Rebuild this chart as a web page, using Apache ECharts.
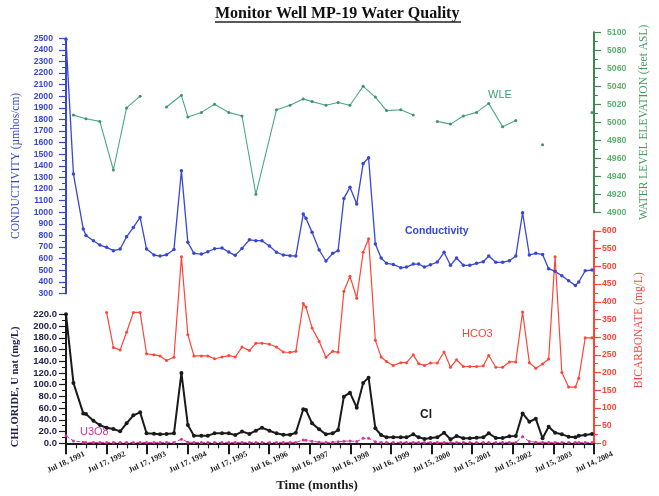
<!DOCTYPE html>
<html>
<head>
<meta charset="utf-8">
<script src="https://cdn.jsdelivr.net/npm/echarts@6/dist/echarts.min.js"></script>
<style>
  html, body { margin: 0; padding: 0; background: #ffffff; }
  #chart { width: 659px; height: 496px; }
</style>
</head>
<body>
<div id="chart"></div>
<script>
// Sampling dates, in months since Jul 18, 1991
const months = [0.0, 2.2, 5.1, 5.9, 8.1, 10.0, 12.0, 14.0, 16.0, 17.9, 19.9, 21.9, 23.8, 26.0, 27.8, 29.7,
  31.9, 34.1, 36.0, 37.8, 40.0, 41.9, 43.9, 46.1, 48.1, 50.0, 52.0, 54.2, 56.1, 57.9, 60.1, 62.2,
  64.2, 66.2, 67.9, 70.1, 70.9, 72.7, 74.8, 76.8, 78.8, 80.4, 82.1, 83.9, 85.9, 87.8, 89.4, 91.4,
  93.1, 94.7, 96.7, 98.9, 100.6, 102.6, 104.2, 105.9, 107.7, 109.7, 111.7, 113.6, 115.4, 117.4, 119.3,
  121.3, 123.3, 124.9, 127.0, 129.0, 131.0, 132.9, 134.9, 136.9, 138.8, 140.8, 142.6, 144.5, 146.5,
  148.5, 150.5, 151.5, 153.4, 155.4];

// Conductivity (µmhos/cm)
const conductivity = [2490, 1330, 855, 800, 755, 718, 698, 669, 683, 789, 870, 956, 683, 632, 623, 634,
  680, 1358, 741, 646, 640, 660, 686, 692, 657, 629, 689, 763, 755, 755, 709, 655,
  632, 626, 623, 985, 948, 827, 675, 580, 646, 669, 1120, 1215, 1071, 1421, 1470, 726,
  606, 560, 551, 522, 528, 554, 554, 528, 548, 571, 655, 543, 606, 543, 543,
  560, 574, 623, 569, 569, 583, 623, 996, 632, 646, 637, 514, 491, 453,
  410, 370, 399, 496, 502];

// Bicarbonate (mg/L)
const bicarbonate = [null, null, null, null, null, null, 370, 271, 264, 314, 370, 370, 253, 250, 247, 234,
  243, 527, 307, 247, 247, 247, 239, 244, 248, 244, 272, 262, 283, 283, 280, 272,
  258, 257, 260, 395, 385, 326, 288, 243, 260, 257, 430, 472, 410, 540, 578, 291,
  244, 231, 220, 228, 228, 250, 225, 220, 227, 227, 258, 215, 236, 217, 217,
  217, 219, 248, 215, 215, 230, 230, 371, 228, 212, 224, 238, 527, 200,
  159, 159, 184, 298, 298];

// Chloride (mg/L)
const chloride = [220, 103, 51, 50, 38.5, 31, 26.6, 24.4, 20.4, 34, 47.7, 52.8, 17, 16.4, 15.3, 15.9,
  17, 120, 31, 13, 13, 13, 17, 17, 17, 14, 20, 16, 21.5, 26.6, 21.5, 17,
  14.7, 14.7, 18, 58, 56.8, 34, 23.9, 15.3, 17, 22.7, 79.5, 86.3, 60.7, 103, 112, 25.6,
  14.2, 10.2, 10.2, 10.2, 10.2, 15.3, 10.2, 7.5, 9, 10.2, 18, 6.8, 12.4, 8.5, 8.5,
  9.6, 10.2, 17, 9, 9, 12, 12.4, 51, 36.8, 42, 8.5, 28.3, 18, 15.3,
  11.3, 10.2, 13, 14.2, 15.9];

// Natural uranium as U3O8 (mg/L)
const uranium = [13, 4, 2, 1.5, 1.5, 1.5, 1.5, 1.5, 1.5, 1.5, 1.5, 1.5, 1.5, 1.5, 1.5, 1.5,
  1.5, 7, 2, 1.5, 1.5, 1.5, 1.5, 1.5, 1.5, 1.5, 1.5, 1.5, 1.5, 1.5, 1.5, 1.5,
  1.5, 1.5, 1.5, 5.5, 5, 3.5, 2, 1.5, 2, 2.5, 3.5, 4, 3, 8.5, 8.5, 2.5,
  1.5, 1.5, 1.5, 1.5, 1.5, 1.5, 1.5, 1.5, 1.5, 1.5, 1.5, 1.5, 1.5, 1.5, 1.5,
  1.5, 1.5, 1.5, 1.5, 1.5, 1.5, 1.5, 11, 3, 2, 1.5, 1.5, 1.5, 1.5,
  1.5, 1.5, 1.5, 1.5, 1.5];

// Water level elevation (feet ASL); null marks a break in the record
const waterLevelMonths = [2.2, 5.9, 10.0, 14.0, 17.9, 21.9, 26.0, 29.7, 34.1, 36.0, 40.0, 43.9, 48.1, 52.0,
  56.1, 62.2, 66.2, 70.1, 72.7, 76.8, 80.4, 83.9, 87.8, 91.4, 94.7, 98.9, 102.6, 105.9, 109.7, 113.6,
  117.4, 121.3, 124.9, 129.0, 132.9, 136.9, 140.8, 146.5, 155.4];
const waterLevel = [5008, 5004, 5001, 4947, 5016, 5029, null, 5017, 5030, 5006, 5011, 5020, 5011, 5007,
  4920, 5014, 5019, 5026, 5023, 5019, 5022, 5019, 5040, 5028, 5013, 5014, 5008, null, 5001, 4998,
  5007, 5011, 5021, 4995, 5002, null, 4975, null, 5011];

const tickLabels = ['Jul 18, 1991', 'Jul 17, 1992', 'Jul 17, 1993', 'Jul 17, 1994', 'Jul 17, 1995',
  'Jul 16, 1996', 'Jul 16, 1997', 'Jul 16, 1998', 'Jul 16, 1999', 'Jul 15, 2000', 'Jul 15, 2001',
  'Jul 15, 2002', 'Jul 15, 2003', 'Jul 14, 2004'];

const pairs = (xs, ys) => xs.map((x, i) => [x, ys[i]]);

const BLUE = '#3846d4', GREEN = '#4aa88a', GREEN_AXIS = '#3b8a4a', RED = '#ff4438', BLACK = '#1a1a1a', MAGENTA = '#d0359e';
const SERIF = '"Liberation Serif", "DejaVu Serif", serif';
const SANS = '"Liberation Sans", Arial, sans-serif';

const L = 66, W = 528;
const grids = [
  { left: L, width: W, top: 38.3, height: 255.2 },   // conductivity
  { left: L, width: W, top: 32.3, height: 180 },     // water level
  { left: L, width: W, top: 231, height: 212.3 },    // bicarbonate
  { left: L, width: W, top: 314.3, height: 129 }     // chloride / uranium
];

function hiddenX(i) {
  return { type: 'value', gridIndex: i, min: 0, max: 156, show: false };
}

function yAx(i, pos, min, max, interval, color, lineColor, name, nameGap, margin, opts) {
  return Object.assign({
    type: 'value', gridIndex: i, position: pos, min: min, max: max, interval: interval,
    axisLine: { show: true, onZero: false, lineStyle: { color: lineColor, width: 2 } },
    axisTick: { show: true, length: 7, lineStyle: { color: lineColor, width: 1.2 } },
    minorTick: { show: true, splitNumber: 2, length: 4, lineStyle: { color: lineColor, width: 1 } },
    splitLine: { show: false },
    axisLabel: { color: color, fontFamily: SANS, fontSize: 8.7, fontWeight: 'bold', margin: margin,
      formatter: v => String(v) },
    name: name, nameLocation: 'middle', nameRotate: 90, nameGap: nameGap,
    nameTextStyle: { color: color, fontFamily: SERIF, fontSize: 11.5 }
  }, opts || {});
}

const option = {
  animation: false,
  backgroundColor: '#ffffff',
  grid: grids,
  xAxis: [hiddenX(0), hiddenX(1), hiddenX(2), {
    type: 'value', gridIndex: 3, min: 0, max: 156, interval: 12, position: 'bottom',
    axisLine: { show: true, onZero: false, lineStyle: { color: BLACK, width: 2 } },
    axisTick: { show: true, length: 11, lineStyle: { color: BLACK, width: 2 } },
    minorTick: { show: true, splitNumber: 4, length: 5, lineStyle: { color: BLACK, width: 1.2 } },
    splitLine: { show: false },
    axisLabel: {
      rotate: 25, align: 'center', verticalAlign: 'middle', margin: 19,
      color: BLACK, fontFamily: SERIF, fontSize: 8, fontWeight: 'bold',
      formatter: v => tickLabels[Math.round(v / 12)] || ''
    },
    name: 'Time (months)', nameLocation: 'middle', nameGap: 36,
    nameTextStyle: { color: BLACK, fontFamily: SERIF, fontSize: 13, fontWeight: 'bold', padding: [0, 0, 0, -26] }
  }],
  yAxis: [
    yAx(0, 'left', 300, 2500, 100, '#3a46cc', BLUE, 'CONDUCTIVITY (\u00b5mhos/cm)', 44, 13),
    yAx(1, 'right', 4900, 5100, 20, '#5cb070', GREEN_AXIS, 'WATER LEVEL ELEVATION (feet ASL)', 44, 13,
      { nameTextStyle: { color: '#3f9d5a', fontFamily: SERIF, fontSize: 11.5 } }),
    yAx(2, 'right', 0, 600, 50, RED, RED, 'BICARBONATE (mg/L)', 39, 8,
      { nameTextStyle: { color: RED, fontFamily: SERIF, fontSize: 11.5, padding: [0, 0, 0, 14] } }),
    yAx(3, 'left', 0, 220, 20, '#22224a', BLACK, 'CHLORIDE, U nat (mg/L)', 45, 9, {
      axisLabel: { color: '#22224a', fontFamily: SANS, fontSize: 9.5, fontWeight: 'bold', margin: 9,
        formatter: v => v.toFixed(1) },
      nameTextStyle: { color: '#22224a', fontFamily: SERIF, fontSize: 10.5, fontWeight: 'bold', padding: [0, 16, 0, 0] }
    })
  ],
  series: [
    {
      name: 'Conductivity', type: 'line', xAxisIndex: 0, yAxisIndex: 0,
      data: pairs(months, conductivity), symbol: 'circle', symbolSize: 3.5,
      lineStyle: { color: BLUE, width: 1.3 }, itemStyle: { color: BLUE }
    },
    {
      name: 'WLE', type: 'line', xAxisIndex: 1, yAxisIndex: 1,
      data: pairs(waterLevelMonths, waterLevel), symbol: 'circle', symbolSize: 3,
      lineStyle: { color: GREEN, width: 1.1 }, itemStyle: { color: '#3f8f70' }
    },
    {
      name: 'HCO3', type: 'line', xAxisIndex: 2, yAxisIndex: 2,
      data: pairs(months, bicarbonate), symbol: 'circle', symbolSize: 3,
      lineStyle: { color: RED, width: 1.2 }, itemStyle: { color: RED }
    },
    {
      name: 'U3O8', type: 'line', xAxisIndex: 3, yAxisIndex: 3,
      data: pairs(months, uranium), symbol: 'circle', symbolSize: 3,
      lineStyle: { color: MAGENTA, width: 1, type: 'dashed' }, itemStyle: { color: MAGENTA }
    },
    {
      name: 'Cl', type: 'line', xAxisIndex: 3, yAxisIndex: 3,
      data: pairs(months, chloride), symbol: 'circle', symbolSize: 4,
      lineStyle: { color: BLACK, width: 2 }, itemStyle: { color: BLACK }
    }
  ],
  graphic: [
    { type: 'text', left: 215, top: 6,
      style: { text: 'Monitor Well MP-19 Water Quality', fill: '#111', font: 'bold 16px ' + SERIF } },
    { type: 'line', shape: { x1: 215, y1: 22, x2: 461, y2: 22 }, style: { stroke: '#222', lineWidth: 1.3 } },
    { type: 'text', left: 405, top: 226,
      style: { text: 'Conductivity', fill: BLUE, font: 'bold 10.5px ' + SANS } },
    { type: 'text', left: 488, top: 89,
      style: { text: 'WLE', fill: '#3f9d72', font: '11px ' + SANS } },
    { type: 'text', left: 462, top: 328,
      style: { text: 'HCO3', fill: RED, font: '11px ' + SANS } },
    { type: 'text', left: 420, top: 409,
      style: { text: 'Cl', fill: BLACK, font: 'bold 12px ' + SANS } },
    { type: 'text', left: 80, top: 426,
      style: { text: 'U3O8', fill: MAGENTA, font: '11px ' + SANS } }
  ]
};

const chart = echarts.init(document.getElementById('chart'), null, { renderer: 'canvas' });
chart.setOption(option);
</script>
</body>
</html>
